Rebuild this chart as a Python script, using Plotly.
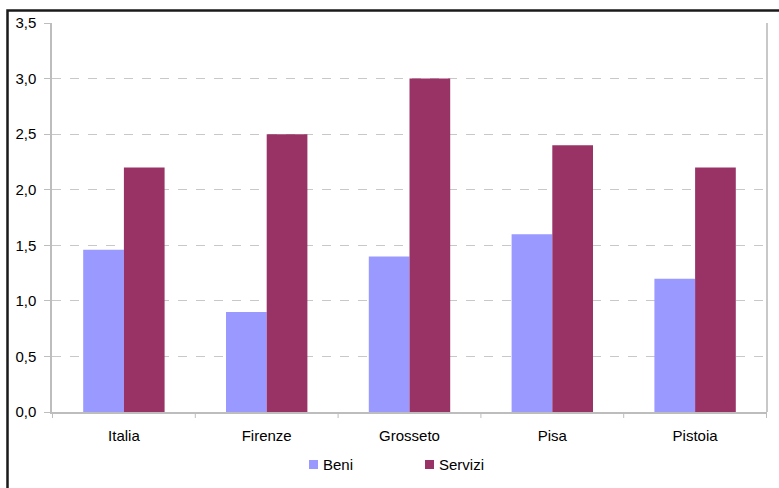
import plotly.graph_objects as go

# Province and the two series (variation, %)
categories = ["Italia", "Firenze", "Grosseto", "Pisa", "Pistoia"]
beni = [1.46, 0.9, 1.4, 1.6, 1.2]
servizi = [2.2, 2.5, 3.0, 2.4, 2.2]
y_ticks = [0.0, 0.5, 1.0, 1.5, 2.0, 2.5, 3.0, 3.5]
series_names = ["Beni", "Servizi"]
series_colors = ["#9999FF", "#993366"]

W, H = 779, 488
L, R, T, B = 52, 12, 23, 76
pw, ph = W - L - R, H - T - B

fig = go.Figure()
for name, vals, col in zip(series_names, [beni, servizi], series_colors):
    fig.add_trace(go.Bar(name=name, x=categories, y=vals,
                         marker=dict(color=col, line=dict(width=0))))

font = dict(family="Liberation Sans, Arial, sans-serif", size=15, color="#000000")

fig.update_layout(
    width=W, height=H,
    margin=dict(l=L, r=R, t=T, b=B, pad=0, autoexpand=False),
    paper_bgcolor="white", plot_bgcolor="white",
    separators=",.",
    font=font,
    barmode="group", bargap=0.43, bargroupgap=0,
    showlegend=False,
    xaxis=dict(showgrid=False, showline=True, linecolor="#bdbdbd", linewidth=1.5,
               ticks="", mirror=False, tickfont=font, ticklabelstandoff=9),
    yaxis=dict(range=[0, 3.5], tickvals=y_ticks, tickformat=".1f",
               showgrid=True, gridcolor="#c8c8c8", griddash="dash", gridwidth=1,
               showline=True, linecolor="#bdbdbd", linewidth=1.5,
               ticks="outside", ticklen=6, tickcolor="#bdbdbd", tickwidth=1,
               zeroline=False, tickfont=font, ticklabelstandoff=5),
)

shapes = []
# category separator ticks below the x axis
for i in range(len(categories) + 1):
    shapes.append(dict(type="line", xref="x", yref="paper",
                       x0=i - 0.5, x1=i - 0.5, y0=0, y1=-6 / ph,
                       line=dict(color="#bdbdbd", width=1)))
# right border of the plot area
shapes.append(dict(type="line", xref="paper", yref="paper", x0=1, x1=1, y0=0, y1=1,
                   line=dict(color="#c8c8c8", width=2)))
# outer chart frame
shapes.append(dict(type="rect", xref="paper", yref="paper",
                   x0=(7.5 - L) / pw, x1=1.2,
                   y0=-0.5, y1=1 + (T - 10.5) / ph,
                   line=dict(color="#1a1a1a", width=2.5), fillcolor="rgba(0,0,0,0)",
                   layer="below"))

# legend: small colour squares followed by the series names
def px_x(x):
    return (x - L) / pw

def px_y(y):
    return (T + ph - y) / ph

legend_x = [309, 425]
annotations = []
for name, col, lx in zip(series_names, series_colors, legend_x):
    shapes.append(dict(type="rect", xref="paper", yref="paper",
                       x0=px_x(lx), x1=px_x(lx + 9), y0=px_y(469), y1=px_y(460),
                       line=dict(width=0), fillcolor=col))
    annotations.append(dict(xref="paper", yref="paper", x=px_x(lx + 12), y=px_y(464.5),
                            xanchor="left", yanchor="middle", text=name,
                            showarrow=False, font=font))

fig.update_layout(shapes=shapes, annotations=annotations)

fig.write_html("out.html")
